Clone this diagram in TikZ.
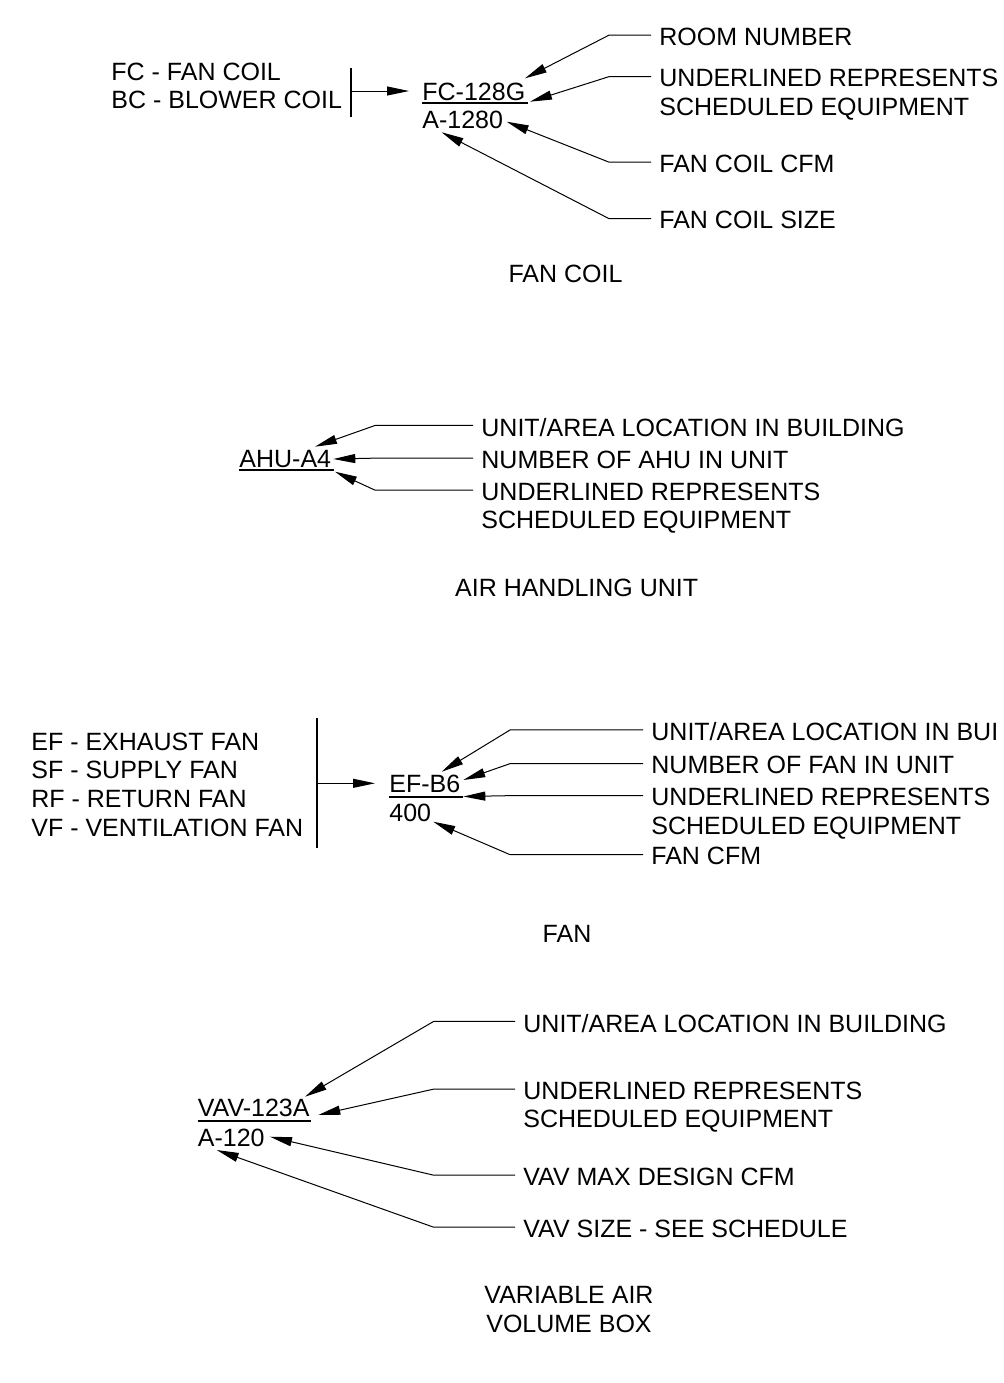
\documentclass[tikz,border=0pt]{standalone}
\usepackage{fontspec}
\setmainfont{Liberation Sans}
\usetikzlibrary{arrows.meta,calc}
\tikzset{
  txt/.style={inner sep=0pt,anchor=base west,align=left,font=\fontsize{12.5}{14.4}\selectfont},
  tag/.style={txt},
  title/.style={inner sep=0pt,anchor=base,align=center,font=\fontsize{12.5}{14.4}\selectfont},
  leader/.style={-{Triangle[length=11pt,width=4.5pt]},line width=0.5pt},
  feed/.style={leader},
  bar/.style={line width=1pt},
  uline/.style={line width=1pt}
}
\begin{document}
\begin{tikzpicture}[x=0.5pt,y=-0.5pt]
  \useasboundingbox[fill=white] (0,0) rectangle (1004,1383);

  % Fan coil
  \node[txt] (fclist) at (111,108.8) {FC - FAN COIL\\BC - BLOWER COIL};
  \draw[bar] (351,68) -- (351,117); \coordinate (fcbar) at (351,91);
  \node[tag] (fctag) at (422,100) {FC-128G};
  \node[tag] (fcsize) at (422,128) {A-1280};
  \draw[uline] ($(fctag.base west)+(0,3)$) -- ($(fctag.base east)+(2,3)$);
  \draw[feed] (fcbar) -- ($(fctag.base west)+(-13,-9)$);
  \node[txt] (fcroom) at (659,45) {ROOM NUMBER};
  \node[txt] (fcul) at (659,115.3) {UNDERLINED REPRESENTS\\SCHEDULED EQUIPMENT};
  \node[txt] (fccfm) at (659,172) {FAN COIL CFM};
  \node[txt] (fcsz) at (659,228.5) {FAN COIL SIZE};
  \coordinate (fcA) at (525,78.3); \coordinate (fcB) at (530,101.7);
  \coordinate (fcC) at (506.7,121.7); \coordinate (fcD) at (441.7,132.3);
  \foreach \lab/\tip in {fcroom/fcA,fcul/fcB,fccfm/fcC,fcsz/fcD}{
    \draw[leader] ($(\lab.north west)+(-8,8)$) -- ++(-42,0) -- (\tip);
  }
  \node[title] (fctitle) at (565.5,282) {FAN COIL};

  % Air handling unit
  \node[tag] (ahutag) at (239,467) {AHU-A4};
  \draw[uline] ($(ahutag.base west)+(0,3)$) -- ($(ahutag.base east)+(3,3)$);
  \node[txt] (ahuloc) at (481,436) {UNIT/AREA LOCATION IN BUILDING};
  \node[txt] (ahunum) at (481,468) {NUMBER OF AHU IN UNIT};
  \node[txt] (ahuul) at (481,528.8) {UNDERLINED REPRESENTS\\SCHEDULED EQUIPMENT};
  \coordinate (ahuA) at (315,446.7); \coordinate (ahuB) at (333.3,459); \coordinate (ahuC) at (335,471.7);
  \foreach \lab/\tip in {ahuloc/ahuA,ahunum/ahuB,ahuul/ahuC}{
    \draw[leader] ($(\lab.north west)+(-8,8)$) -- ++(-98,0) -- (\tip);
  }
  \node[title] (ahutitle) at (576.7,596) {AIR HANDLING UNIT};

  % Fan
  \node[txt] (fanlist) at (31,836.4) {EF - EXHAUST FAN\\SF - SUPPLY FAN\\RF - RETURN FAN\\VF - VENTILATION FAN};
  \draw[bar] (316.7,718.3) -- (316.7,848.3); \coordinate (fanbar) at (316.7,783.3);
  \node[tag] (eftag) at (389,792.7) {EF-B6};
  \node[tag] (efcfm) at (389,821.7) {400};
  \draw[uline] ($(eftag.base west)+(0,4)$) -- ($(eftag.base east)+(2,4)$);
  \draw[feed] (fanbar) -- ($(eftag.base west)+(-14,-9.4)$);
  \node[txt] (efloc) at (651,740.5) {UNIT/AREA LOCATION IN BUI};
  \node[txt] (efnum) at (651,773.5) {NUMBER OF FAN IN UNIT};
  \node[txt] (eful) at (651,834.3) {UNDERLINED REPRESENTS\\SCHEDULED EQUIPMENT};
  \node[txt] (efflow) at (651,864.5) {FAN CFM};
  \coordinate (efA) at (441.7,771.7); \coordinate (efB) at (463.3,780);
  \coordinate (efC) at (463.3,796.5); \coordinate (efD) at (433.3,821.7);
  \foreach \lab/\tip in {efloc/efA,efnum/efB,eful/efC,efflow/efD}{
    \draw[leader] ($(\lab.north west)+(-8,8)$) -- ++(-133,0) -- (\tip);
  }
  \node[title] (fantitle) at (567,942) {FAN};

  % Variable air volume box
  \node[tag] (vavtag) at (197.5,1116.7) {VAV-123A};
  \node[tag] (vavsize) at (197.5,1146.7) {A-120};
  \draw[uline] ($(vavtag.base west)+(0,4)$) -- ($(vavtag.base east)+(1,4)$);
  \node[txt] (vavloc) at (523,1032) {UNIT/AREA LOCATION IN BUILDING};
  \node[txt] (vavul) at (523,1127.8) {UNDERLINED REPRESENTS\\SCHEDULED EQUIPMENT};
  \node[txt] (vavmax) at (523,1185) {VAV MAX DESIGN CFM};
  \node[txt] (vavsz) at (523,1237) {VAV SIZE - SEE SCHEDULE};
  \coordinate (vavA) at (305,1096.7); \coordinate (vavB) at (318.3,1115);
  \coordinate (vavC) at (270,1136.7); \coordinate (vavD) at (216.7,1150);
  \foreach \lab/\tip in {vavloc/vavA,vavul/vavB,vavmax/vavC,vavsz/vavD}{
    \draw[leader] ($(\lab.north west)+(-8,8)$) -- ++(-81.5,0) -- (\tip);
  }
  \node[title] (vavtitle) at (569,1332.1) {VARIABLE AIR\\VOLUME BOX};
\end{tikzpicture}
\end{document}
